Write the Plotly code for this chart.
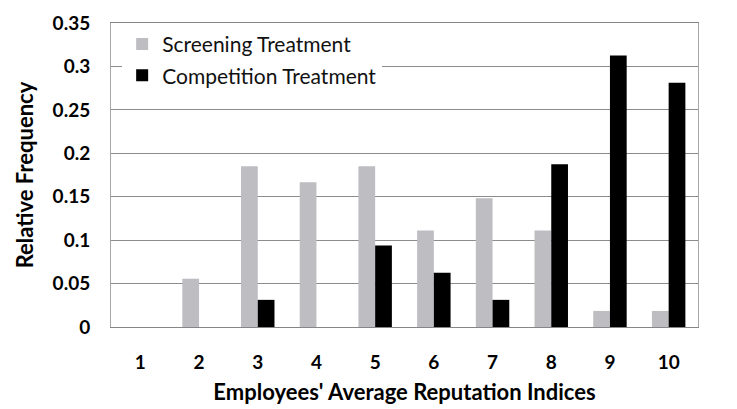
import plotly.graph_objects as go

categories = ["1", "2", "3", "4", "5", "6", "7", "8", "9", "10"]
screening = [0, 0.0556, 0.1852, 0.1667, 0.1852, 0.1111, 0.1481, 0.1111, 0.0185, 0.0185]
competition = [0, 0, 0.03125, 0, 0.09375, 0.0625, 0.03125, 0.1875, 0.3125, 0.28125]
y_ticks = [0, 0.05, 0.1, 0.15, 0.2, 0.25, 0.3, 0.35]
y_ticklabels = ["0", "0.05", "0.1", "0.15", "0.2", "0.25", "0.3", "0.35"]

FONT = "Lato, Open Sans, DejaVu Sans, sans-serif"

fig = go.Figure()
fig.add_trace(go.Bar(x=categories, y=screening, name="Screening Treatment",
                     marker=dict(color="#bebec2", line=dict(width=0)), legendgroup="a"))
fig.add_trace(go.Bar(x=categories, y=competition, name="Competition Treatment",
                     marker=dict(color="#000000", line=dict(width=0)), legendgroup="b"))

fig.update_layout(
    width=737, height=409,
    margin=dict(l=111, r=39, t=23, b=82, pad=0, autoexpand=False),
    paper_bgcolor="white", plot_bgcolor="white",
    barmode="group", bargap=0.43, bargroupgap=0,
    font=dict(family=FONT, color="black"),
    legend=dict(x=0.019, y=0.997, xanchor="left", yanchor="top",
                bgcolor="white", borderwidth=0,
                font=dict(size=21, family=FONT, color="#111"),
                tracegroupgap=1, itemwidth=30),
    xaxis=dict(
        type="category", automargin=False,
        showline=True, linecolor="#868686", linewidth=1, mirror=True,
        showgrid=False, ticks="", ticklabelstandoff=18,
        tickfont=dict(size=19, family=FONT, color="black", weight="bold"),
        title=dict(text="Employees' Average Reputation Indices", standoff=12,
                   font=dict(size=22, family=FONT, color="black", weight="bold")),
    ),
    yaxis=dict(
        range=[0, 0.35], tickvals=y_ticks, ticktext=y_ticklabels, automargin=False,
        showline=True, linecolor="#a6a6a6", linewidth=1, mirror=True,
        showgrid=True, gridcolor="#8c8c8c", gridwidth=1,
        zeroline=False, ticks="", ticklabelstandoff=16,
        tickfont=dict(size=19, family=FONT, color="black", weight="bold"),
        title=dict(text="Relative Frequency", standoff=12,
                   font=dict(size=22, family=FONT, color="black", weight="bold")),
    ),
)

fig.write_html("out.html", config={"displayModeBar": False},
               post_script="document.body.style.margin='0';document.body.style.padding='0';")
